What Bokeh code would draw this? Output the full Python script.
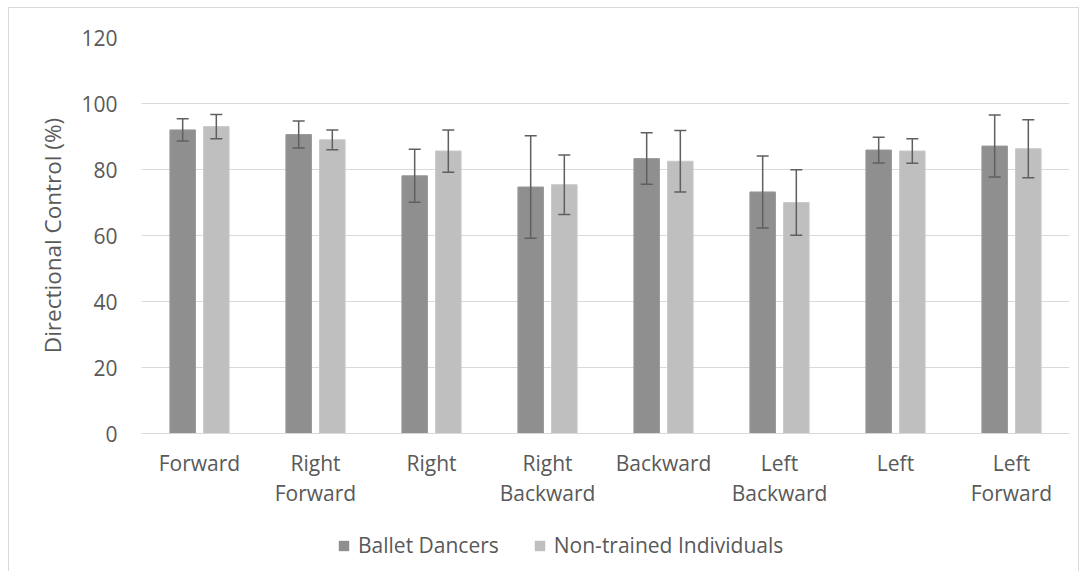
from bokeh.plotting import figure
from bokeh.layouts import column
from bokeh.models import ColumnDataSource, Whisker, TeeHead, Legend, LegendItem, FixedTicker
from bokeh.transform import dodge
from bokeh.embed import file_html
from bokeh.resources import INLINE

categories = ["Forward", "Right\nForward", "Right", "Right\nBackward", "Backward",
              "Left\nBackward", "Left", "Left\nForward"]
ballet = [92.0, 90.6, 78.1, 74.7, 83.3, 73.2, 85.9, 87.1]
ballet_err = [3.4, 4.1, 8.0, 15.5, 7.8, 10.9, 3.9, 9.4]
nontrained = [93.0, 89.0, 85.6, 75.4, 82.5, 70.0, 85.6, 86.3]
nontrained_err = [3.7, 3.0, 6.4, 9.0, 9.3, 9.9, 3.7, 8.8]
y_ticks = [0, 20, 40, 60, 80, 100, 120]
series_names = ["Ballet Dancers", "Non-trained Individuals"]
colors = ["#8f8f8f", "#bfbfbf"]
edge_colors = ["#9a9a9a", "#c9c9c9"]

src = ColumnDataSource(dict(
    cat=categories,
    ballet=ballet,
    nontrained=nontrained,
    b_up=[v + e for v, e in zip(ballet, ballet_err)],
    b_lo=[v - e for v, e in zip(ballet, ballet_err)],
    n_up=[v + e for v, e in zip(nontrained, nontrained_err)],
    n_lo=[v - e for v, e in zip(nontrained, nontrained_err)],
))

FONT = "Open Sans"
TXT = "#595959"
BORDER = "1px solid #d9d9d9"

p = figure(x_range=categories, y_range=(0, 120), width=1069, height=513,
           output_backend="svg", toolbar_location=None,
           min_border_left=132, min_border_right=9, min_border_top=29, min_border_bottom=88)
p.outline_line_color = None

off = 0.145
bw = 0.22
r1 = p.vbar(x=dodge("cat", -off, range=p.x_range), top="ballet", width=bw, source=src,
            fill_color=colors[0], line_color=edge_colors[0], line_width=1)
r2 = p.vbar(x=dodge("cat", off, range=p.x_range), top="nontrained", width=bw, source=src,
            fill_color=colors[1], line_color=edge_colors[1], line_width=1)

for base, up, lo in [(-off, "b_up", "b_lo"), (off, "n_up", "n_lo")]:
    w = Whisker(source=src, base=dodge("cat", base, range=p.x_range), upper=up, lower=lo,
                line_color="#5f5f5f", line_width=1.5, level="overlay",
                upper_head=TeeHead(size=12, line_color="#5f5f5f", line_width=1.5),
                lower_head=TeeHead(size=12, line_color="#5f5f5f", line_width=1.5))
    p.add_layout(w)

p.xgrid.grid_line_color = None
p.ygrid.grid_line_color = "#d9d9d9"
p.ygrid.grid_line_width = 1
p.yaxis.ticker = FixedTicker(ticks=y_ticks)
p.yaxis.axis_line_color = None
p.yaxis.major_tick_line_color = None
p.yaxis.minor_tick_line_color = None
p.yaxis.major_label_standoff = 18
p.yaxis.axis_label = "Directional Control (%)"
p.yaxis.axis_label_text_font = FONT
p.yaxis.axis_label_text_font_style = "normal"
p.yaxis.axis_label_text_font_size = "22.5px"
p.yaxis.axis_label_text_color = TXT
p.yaxis.axis_label_standoff = 10

p.xaxis.axis_line_color = "#d9d9d9"
p.xaxis.major_tick_line_color = None
p.xaxis.minor_tick_line_color = None
p.xaxis.major_label_standoff = 9
p.xaxis.major_label_text_line_height = 1.1

for ax in (p.xaxis, p.yaxis):
    ax.major_label_text_font = FONT
    ax.major_label_text_font_size = "21px"
    ax.major_label_text_color = TXT

# legend strip below the plot (swatch renderers sit outside the visible range)
lg = figure(width=1069, height=50, x_range=(0, 1), y_range=(0, 1),
            output_backend="svg", toolbar_location=None,
            min_border_left=132, min_border_right=9, min_border_top=0, min_border_bottom=0)
lg.axis.visible = False
lg.grid.visible = False
lg.outline_line_color = None
e1 = lg.vbar(x=[-5], bottom=[5], top=[6], width=0.1, fill_color=colors[0], line_alpha=0)
e2 = lg.vbar(x=[-5], bottom=[5], top=[6], width=0.1, fill_color=colors[1], line_alpha=0)
legend = Legend(items=[LegendItem(label=series_names[0], renderers=[e1]),
                       LegendItem(label=series_names[1], renderers=[e2])],
                orientation="horizontal", location=(196, 12),
                label_text_font=FONT, label_text_font_size="21px", label_text_color=TXT,
                glyph_width=13, glyph_height=13, spacing=34, label_standoff=8,
                border_line_color=None, background_fill_alpha=0, margin=0, padding=0)
lg.add_layout(legend, "center")

layout = column(p, lg, spacing=0, margin=(7, 0, 0, 8))
layout.styles = {"border-top": BORDER, "border-left": BORDER, "border-right": BORDER}
open("out.html", "w").write(file_html(layout, INLINE))
